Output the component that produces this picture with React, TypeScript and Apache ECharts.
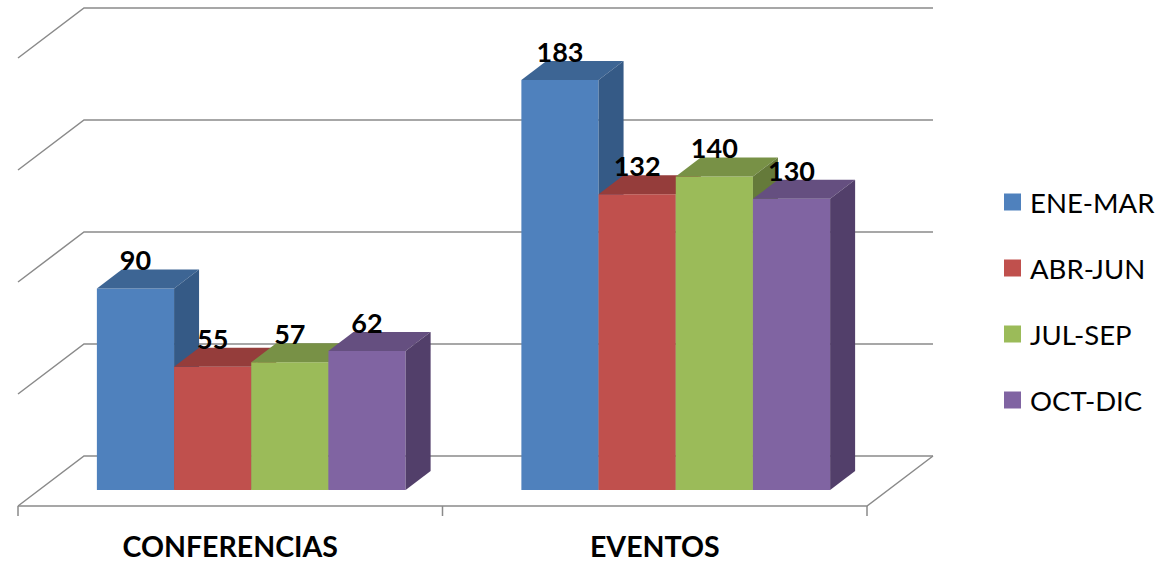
import React, { useEffect, useRef } from "react";
import * as echarts from "echarts";

const categories = ["CONFERENCIAS", "EVENTOS"];
const quarters = ["ENE-MAR", "ABR-JUN", "JUL-SEP", "OCT-DIC"];
const eneMar = [90, 183];
const abrJun = [55, 132];
const julSep = [57, 140];
const octDic = [62, 130];
const seriesValues = [eneMar, abrJun, julSep, octDic];
const gridValues = [0, 50, 100, 150, 200];

const faceColors = [
  { front: "#4F81BD", top: "#3D6594", side: "#355A86" },
  { front: "#C0504D", top: "#953D3B", side: "#7E3230" },
  { front: "#9BBB59", top: "#789146", side: "#657A3A" },
  { front: "#8064A2", top: "#654F80", side: "#523F6A" },
];

// oblique depth offsets (px)
const BAR_DX = 25;
const BAR_DY = 19;
const FRONT_DX = -21;
const FRONT_DY = 16;
const BACK_DX = 45;
const BACK_DY = -34;
const GAP = 1.5;
const LINE = "#8A8A8A";

function barRender(idx: number) {
  const col = faceColors[idx];
  return (params: any, api: any) => {
    const cat = api.value(0);
    const v = api.value(1);
    const band = api.size([1, 0])[0];
    const n = quarters.length;
    const barW = band / (n + GAP);
    const c = api.coord([cat, 0]);
    const t = api.coord([cat, v]);
    const x0 = c[0] - (barW * n) / 2 + idx * barW;
    const x1 = x0 + barW;
    const by = c[1];
    const ty = t[1];
    return {
      type: "group",
      children: [
        {
          type: "rect",
          shape: { x: x0, y: ty, width: barW, height: by - ty },
          style: { fill: col.front },
        },
        {
          type: "polygon",
          shape: {
            points: [
              [x0, ty],
              [x0 + BAR_DX, ty - BAR_DY],
              [x1 + BAR_DX, ty - BAR_DY],
              [x1, ty],
            ],
          },
          style: { fill: col.top },
        },
        {
          type: "polygon",
          shape: {
            points: [
              [x1, ty],
              [x1 + BAR_DX, ty - BAR_DY],
              [x1 + BAR_DX, by - BAR_DY],
              [x1, by],
            ],
          },
          style: { fill: col.side },
        },
        {
          type: "text",
          z2: 100,
          x: x0 + barW / 2,
          y: ty - BAR_DY + 4,
          style: {
            text: String(v),
            fontSize: 27,
            fontWeight: "bold",
            fontFamily: "Lato",
            fill: "#000",
            align: "center",
            verticalAlign: "bottom",
          },
        },
      ],
    };
  };
}

function wallRender(params: any, api: any) {
  const v = api.value(0);
  const cs = params.coordSys;
  const gx = cs.x;
  const gw = cs.width;
  const y = api.coord([0, v])[1];
  const children: any[] = [
    {
      type: "polyline",
      shape: {
        points: [
          [gx + FRONT_DX, y + FRONT_DY],
          [gx + BACK_DX, y + BACK_DY],
          [gx + gw + BACK_DX, y + BACK_DY],
        ],
      },
      style: { stroke: LINE, lineWidth: 1.5, fill: null },
    },
  ];
  if (v === 0) {
    children.push({
      type: "polyline",
      shape: {
        points: [
          [gx + FRONT_DX, y + FRONT_DY],
          [gx + gw + FRONT_DX, y + FRONT_DY],
          [gx + gw + BACK_DX, y + BACK_DY],
        ],
      },
      style: { stroke: LINE, lineWidth: 1.5, fill: null },
    });
    const band = gw / categories.length;
    for (let k = 0; k <= categories.length; k++) {
      const tx = gx + FRONT_DX + k * band;
      children.push({
        type: "line",
        shape: { x1: tx, y1: y + FRONT_DY, x2: tx, y2: y + FRONT_DY + 10 },
        style: { stroke: LINE, lineWidth: 1.5 },
      });
    }
  }
  return { type: "group", children };
}

export default function App() {
  const ref = useRef<HTMLDivElement>(null);
  useEffect(() => {
    if (!ref.current) return;
    const chart = echarts.init(ref.current, null, { renderer: "svg" });
    const series: any[] = [
      {
        type: "custom",
        name: "wall",
        silent: true,
        renderItem: wallRender,
        data: gridValues.map((v) => [v]),
        encode: { y: 0 },
        z: 1,
      },
    ];
    quarters.forEach((q, i) => {
      series.push({
        type: "custom",
        name: q,
        renderItem: barRender(i),
        itemStyle: { color: faceColors[i].front },
        data: seriesValues[i].map((v, ci) => [ci, v]),
        encode: { x: 0, y: 1 },
        z: 2,
      });
    });
    chart.setOption({
      animation: false,
      backgroundColor: "#ffffff",
      grid: { left: 39, top: 42, width: 849, height: 448 },
      xAxis: {
        type: "category",
        data: categories,
        axisLine: { show: false },
        axisTick: { show: false },
        splitLine: { show: false },
        axisLabel: {
          margin: 41,
          fontFamily: "Lato",
          fontWeight: "bold",
          fontSize: 28.5,
          color: "#000",
          padding: [0, 42, 0, 0],
        },
      },
      yAxis: {
        type: "value",
        min: 0,
        max: 200,
        interval: 50,
        show: false,
        splitLine: { show: false },
      },
      legend: {
        orient: "vertical",
        left: 1004,
        top: 188,
        padding: 0,
        itemWidth: 17,
        itemHeight: 17,
        itemGap: 38,
        icon: "rect",
        data: quarters,
        textStyle: {
          fontFamily: "Lato",
          fontSize: 27.5,
          color: "#000",
          lineHeight: 17,
          padding: [0, 0, 0, 4],
        },
      },
      series,
    });
    return () => chart.dispose();
  }, []);
  return (
    <div
      ref={ref}
      style={{ position: "fixed", left: 0, top: 0, width: 1163, height: 563 }}
    />
  );
}
